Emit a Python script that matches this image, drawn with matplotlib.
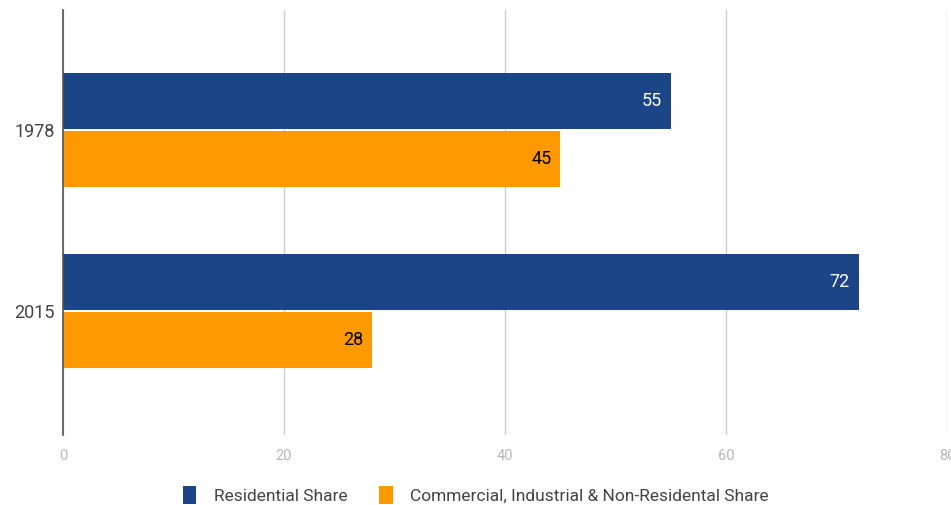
import numpy as np
import matplotlib.pyplot as plt

years = ["1978", "2015"]
residential = [55, 72]
commercial = [45, 28]
series_names = ["Residential Share", "Commercial, Industrial & Non-Residental Share"]

plt.rcParams['font.family'] = ['Roboto', 'DejaVu Sans']

fig = plt.figure(figsize=(9.51, 5.05), dpi=100)
ax = fig.add_axes([63 / 951, 70 / 505, 884 / 951, 425 / 505])

y = np.arange(len(years))
h = 0.305
b1 = ax.barh(y - 0.16, residential, height=h, color="#1c4587", label=series_names[0], zorder=3)
b2 = ax.barh(y + 0.16, commercial, height=h, color="#ff9900", label=series_names[1], zorder=3)

for rect, v in zip(b1, residential):
    ax.text(v - 0.8, rect.get_y() + rect.get_height() / 2, str(v), ha="right", va="center",
            color="white", fontsize=13, zorder=4)
for rect, v in zip(b2, commercial):
    ax.text(v - 0.8, rect.get_y() + rect.get_height() / 2, str(v), ha="right", va="center",
            color="black", fontsize=13, zorder=4)

ax.set_xlim(0, 80)
ax.set_ylim(1.685, -0.663)
ax.set_yticks(y)
ax.set_yticklabels(years, fontsize=13, color="#444444")
ax.set_xticks([0, 20, 40, 60, 80])
ax.tick_params(axis="x", length=0, labelsize=10.5, labelcolor="#b7b7b7", pad=10)
ax.tick_params(axis="y", length=0, pad=6)
ax.grid(axis="x", color="#cccccc", linewidth=1, zorder=0)
for s in ["top", "right", "bottom"]:
    ax.spines[s].set_visible(False)
ax.spines["left"].set_color("#555555")
ax.spines["left"].set_linewidth(1.2)
ax.spines["left"].set_zorder(5)

leg = fig.legend(handles=[b1, b2], loc="center", bbox_to_anchor=(0.5, 10 / 505), ncol=2,
                 frameon=False, fontsize=12.5, handlelength=0.8, handleheight=1.2,
                 handletextpad=1.0, columnspacing=1.8)
for t in leg.get_texts():
    t.set_color("#444444")

fig.savefig("out.png", dpi=100)
